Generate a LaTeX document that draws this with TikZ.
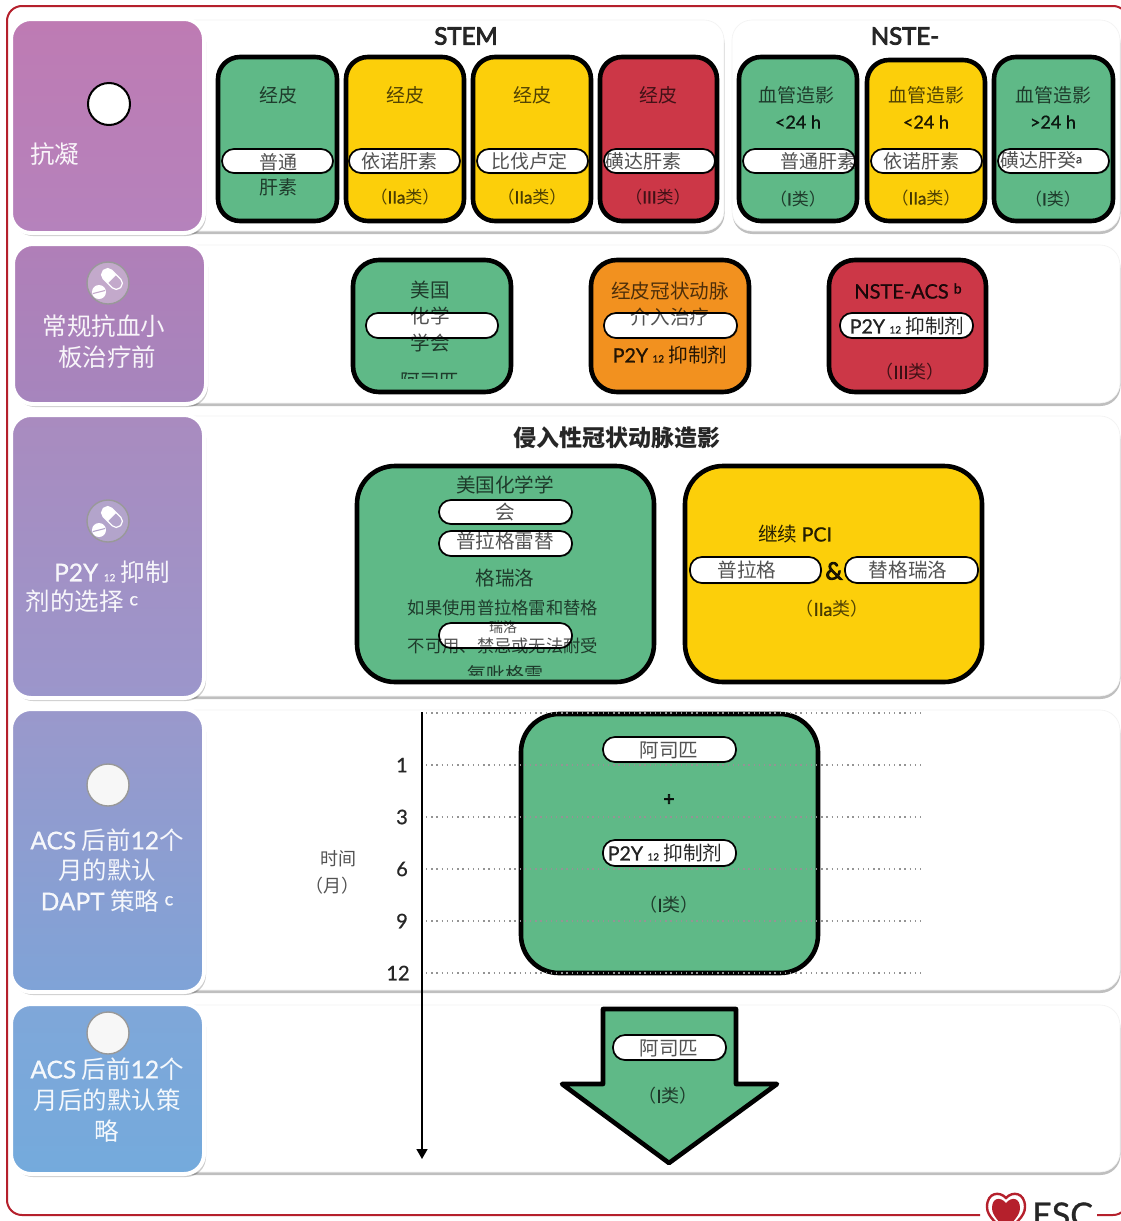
\documentclass[tikz,border=0pt]{standalone}
\usepackage{fontspec}
\setmainfont{Noto Sans CJK SC}
\newfontfamily\lat[FakeBold=0.8]{Lato}
\newfontfamily\latb[FakeBold=3.5]{Lato}
\usetikzlibrary{shadows,arrows.meta}
\definecolor{cgreen}{HTML}{5FB987}
\definecolor{cyellow}{HTML}{FCCF0A}
\definecolor{cred}{HTML}{CC3747}
\definecolor{corange}{HTML}{F2911F}
\definecolor{frame}{HTML}{B5202C}
\definecolor{icona}{HTML}{C3A9CB}
\definecolor{iconb}{HTML}{B3A4CB}
\definecolor{sa}{HTML}{BE7BB3}
\definecolor{sb}{HTML}{B582BC}
\definecolor{sc}{HTML}{B07FB8}
\definecolor{sd}{HTML}{A685BD}
\definecolor{se}{HTML}{A98BBF}
\definecolor{sf}{HTML}{9B96CB}
\definecolor{sg}{HTML}{9A98CB}
\definecolor{sh}{HTML}{7FA3D7}
\definecolor{si}{HTML}{7FA7D9}
\definecolor{sj}{HTML}{74AADC}
\newcommand\fs[1]{\fontsize{#1}{#1}\selectfont}
\newcommand\la[1]{{\lat #1}}
\newcommand\sub[1]{{\lat\fontsize{10}{10}\selectfont #1}}
\newcommand\bx[6][]{\node[#2,#1,inner sep=0pt,outer sep=0pt,minimum width={(#5-#3)*1pt},minimum height={(#6-#4)*1pt}] (#3x#4) at ({(#3+#5)/2},{(#4+#6)/2}) {};}
\tikzset{
  cardbox/.style={draw=black,line width=4.6pt,rounded corners=22pt},
  pillbox/.style={draw=black,fill=white,line width=1.7pt,rounded corners=12pt,
    general shadow={shadow xshift=1pt,shadow yshift=-1pt,fill=black,opacity=.25}},
  panelbox/.style={draw=black!5,fill=white,line width=.6pt,rounded corners=20pt,
    general shadow={shadow xshift=.5pt,shadow yshift=-3pt,fill=black,opacity=.25}},
  sidebox/.style={draw=white,line width=4pt,rounded corners=20pt,
    general shadow={shadow xshift=2pt,shadow yshift=-3pt,fill=black,opacity=.2}},
  ct/.style={inner sep=0pt,font=\fs{19.6},text=black,text opacity=.68},
  ctb/.style={inner sep=0pt,font=\fs{19.6},text=black,text opacity=.85},
  sidet/.style={inner sep=0pt,font=\fs{24.5},text=white,text opacity=.92},
  title/.style={inner sep=0pt,font=\fs{24}\bfseries,text=black!85},
  iconc/.style={circle,inner sep=0pt,minimum size=42pt,draw=black!40,line width=1.4pt},
  tick/.style={inner sep=0pt,font=\fs{20},text=black!85},
  dots/.style={draw=black!42,line width=1.3pt,dash pattern=on 1.4pt off 3.8pt},
}
\newcommand\pillicon[3]{%
  \begin{scope}[shift={(#1,#2)}]
    \begin{scope}[shift={(4,-4)},rotate=-45]
      \draw[white,line width=1.2pt,fill=#3,rounded corners=5.5pt] (-12,-6) rectangle (12,6);
      \fill[white] (0,-6) [rounded corners=5.5pt] -- (-12,-6) -- (-12,6) [sharp corners] -- (0,6) -- cycle;
    \end{scope}
    \fill[white] (-9,9) circle[radius=7];
    \draw[#3,line width=1.1pt] (-15,10.5) -- (-3,7.5);
  \end{scope}}
\begin{document}
\begin{tikzpicture}[x=1pt,y=-1pt]
\clip (0,0) rectangle (1121,1221);
\fill[white] (0,0) rectangle (1121,1221);
% frame
\coordinate (fa) at (980,1215);
\coordinate (fb) at (1097,1215);
\draw[frame,line width=2pt,rounded corners=15pt] (fa) -- (7,1215) -- (7,6) -- (1128,6) -- (1128,1215) -- (fb);
% panels
\bx{panelbox}{100}{20}{724}{231}
\bx{panelbox}{732}{20}{1120}{231}
\bx{panelbox}{100}{245}{1120}{403}
\bx{panelbox}{100}{416}{1120}{696}
\bx{panelbox}{100}{710}{1120}{990}
\bx{panelbox}{100}{1005}{1120}{1172}
% side boxes
\bx[top color=sa,bottom color=sb]{sidebox}{11}{19}{204}{233}
\bx[top color=sc,bottom color=sd]{sidebox}{13}{244}{206}{404}
\bx[top color=se,bottom color=sf]{sidebox}{11}{415}{204}{698}
\bx[top color=sg,bottom color=sh]{sidebox}{11}{709}{204}{992}
\bx[top color=si,bottom color=sj]{sidebox}{11}{1004}{204}{1174}
% side icons
\node[iconc,fill=white,draw=black,line width=2pt] (ic1) at (109,104) {};
\node[iconc,fill=icona] (ic2) at (108,283) {};
\pillicon{108}{283}{icona}
\node[iconc,fill=iconb] (ic3) at (108,521) {};
\pillicon{108}{521}{iconb}
\node[iconc,fill=black!3] (ic4) at (108,785) {};
\node[iconc,fill=black!3] (ic5) at (108,1033) {};
% side text
\node[sidet] (s1) at (55,154) {抗凝};
\node[sidet] (s2a) at (104,326) {常规抗血小};
\node[sidet] (s2b) at (107,357) {板治疗前};
\node[sidet] (s3a) at (112,572) {\la{P2Y} \sub{12} 抑制};
\node[sidet] (s3b) at (82,601) {剂的选择 \la{\fontsize{18}{18}\selectfont\raisebox{5pt}{c}}};
\node[sidet] (s4a) at (107,840) {\la{ACS} 后前\la{12}个};
\node[sidet] (s4b) at (107,870) {月的默认};
\node[sidet] (s4c) at (107,901) {\la{DAPT} 策略 \la{\fontsize{18}{18}\selectfont\raisebox{5pt}{c}}};
\node[sidet] (s5a) at (107,1069) {\la{ACS} 后前\la{12}个};
\node[sidet] (s5b) at (107,1100) {月后的默认策};
\node[sidet] (s5c) at (107,1131) {略};
% titles
\node[title] (t1) at (466,36) {{\latb\mdseries STEM}};
\node[title] (t2) at (905,36) {{\latb\mdseries NSTE-}};
\node[title,font=\fs{23}\bfseries] (t3) at (617,438) {侵入性冠状动脉造影};
% row 1 cards
\bx[fill=cgreen]{cardbox}{218}{57}{337}{221}
\bx[fill=cyellow]{cardbox}{346}{57}{464}{221}
\bx[fill=cyellow]{cardbox}{473}{57}{591}{221}
\bx[fill=cred]{cardbox}{600}{57}{717}{221}
\bx[fill=cgreen]{cardbox}{739}{57}{857}{221}
\bx[fill=cyellow]{cardbox}{867}{60}{985}{221}
\bx[fill=cgreen]{cardbox}{994}{57}{1113}{221}
\bx{pillbox}{222}{149}{333}{173}
\bx{pillbox}{349}{149}{460}{173}
\bx{pillbox}{477}{149}{588}{173}
\bx{pillbox}{604}{149}{715}{173}
\bx{pillbox}{743}{149}{855}{173}
\bx{pillbox}{871}{149}{982}{173}
\bx{pillbox}{998}{149}{1109}{173}
\node[ct,font=\fs{19}] (a1) at (278,95) {经皮};
\node[ct,font=\fs{19}] (a2) at (278,162) {普通};
\node[ct,font=\fs{19}] (a3) at (278,187) {肝素};
\node[ct,font=\fs{19}] (b1) at (405,95) {经皮};
\node[ct,font=\fs{19}] (b2) at (399,161) {依诺肝素};
\node[ct,font=\fs{17}] (b3) at (405,197) {（\la{IIa}类）};
\node[ct,font=\fs{19}] (c1) at (532,95) {经皮};
\node[ct,font=\fs{19}] (c2) at (529,161) {比伐卢定};
\node[ct,font=\fs{17}] (c3) at (532,197) {（\la{IIa}类）};
\node[ct,font=\fs{19}] (d1) at (658,95) {经皮};
\node[ct,font=\fs{19}] (d2) at (643,161) {磺达肝素};
\node[ct,font=\fs{17}] (d3) at (658,197) {（\la{III}类）};
\node[ct,font=\fs{19}] (e1) at (796,95) {血管造影};
\node[ctb] (e2) at (798,122) {\la{\fs{18}<24 h}};
\node[ct,font=\fs{19}] (e3) at (818,161) {普通肝素};
\node[ct,font=\fs{17}] (e4) at (798,199) {（\la{I}类）};
\node[ct,font=\fs{19}] (f1) at (926,95) {血管造影};
\node[ctb] (f2) at (926,122) {\la{\fs{18}<24 h}};
\node[ct,font=\fs{19}] (f3) at (921,161) {依诺肝素};
\node[ct,font=\fs{17}] (f4) at (926,198) {（\la{IIa}类）};
\node[ct,font=\fs{19}] (g1) at (1053,95) {血管造影};
\node[ctb] (g2) at (1053,122) {\la{\fs{18}>24 h}};
\node[ct,font=\fs{19}] (g3) at (1041,160) {磺达肝癸\la{\fontsize{12}{12}\selectfont\raisebox{4pt}{a}}};
\node[ct,font=\fs{17}] (g4) at (1053,199) {（\la{I}类）};
% row 2 cards
\bx[fill=cgreen,rounded corners=26pt]{cardbox}{353}{260}{511}{392}
\bx[fill=corange,rounded corners=26pt]{cardbox}{591}{260}{749}{392}
\bx[fill=cred,rounded corners=26pt]{cardbox}{829}{260}{986}{392}
\bx{pillbox}{366}{313}{498}{338}
\bx{pillbox}{604}{313}{737}{338}
\bx{pillbox}{840}{313}{973}{338}
\node[ct] (h1) at (430,290) {美国};
\node[ct] (h2) at (430,316) {化学};
\node[ct] (h3) at (430,343) {学会};
\begin{scope}
\clip (380,368) rectangle (480,378);
\node[ct] (h4) at (430,381) {阿司匹};
\end{scope}
\node[ct] (i1) at (670,291) {经皮冠状动脉};
\node[ct] (i2) at (670,317) {介入治疗};
\node[ctb] (i3) at (670,355) {\la{P2Y} \sub{12} 抑制剂};
\node[ctb] (j1) at (908,291) {\la{\fs{20}NSTE-ACS \fontsize{14}{14}\selectfont\raisebox{5pt}{b}}};
\node[ctb] (j2) at (907,326) {\la{P2Y} \sub{12} 抑制剂};
\node[ct,font=\fs{18}] (j3) at (910,372) {（\la{III}类）};
% row 3 cards
\bx[fill=cgreen,rounded corners=38pt]{cardbox}{357}{466}{654}{682}
\bx[fill=cyellow,rounded corners=38pt]{cardbox}{685}{466}{982}{682}
\bx{pillbox}{439}{500}{572}{524}
\bx{pillbox}{439}{531}{572}{556}
\bx{pillbox}{439}{623}{572}{648}
\bx{pillbox}{690}{557}{821}{583}
\bx{pillbox}{845}{557}{978}{583}
\node[ct] (k1) at (505,485) {美国化学学};
\node[ct] (k2) at (505,512) {会};
\node[ct] (k3) at (505,541) {普拉格雷替};
\node[ct] (k4) at (505,578) {格瑞洛};
\node[ct,font=\fs{17.3}] (k5) at (503,608) {如果使用普拉格雷和替格};
\node[ct,font=\fs{14}] (k6) at (503,627) {瑞洛};
\node[ct,font=\fs{17.3}] (k7) at (503,646) {不可用、禁忌或无法耐受};
\begin{scope}
\clip (440,655) rectangle (570,675.5);
\node[ct,font=\fs{19}] (k8) at (505,674) {氧吡格雷};
\end{scope}
\node[ctb] (l1) at (795,534) {继续 \la{PCI}};
\node[ct] (l2) at (747,570) {普拉格};
\node[ctb,font=\fs{24}] (l3) at (834,571) {{\latb\&}};
\node[ct] (l4) at (908,570) {替格瑞洛};
\node[ct,font=\fs{18}] (l5) at (832,609) {（\la{IIa}类）};
% row 4 card
\bx[fill=cgreen,rounded corners=38pt]{cardbox}{521}{714}{818}{973}
\bx{pillbox}{603}{737}{736}{762}
\bx{pillbox}{603}{840}{736}{866}
\node[ct] (m1) at (669,750) {阿司匹};
\node[ctb,font=\fs{19}] (m2) at (669,800) {{\latb +}};
\node[ctb] (m3) at (665,853) {\la{P2Y} \sub{12} 抑制剂};
\node[ct,font=\fs{18}] (m4) at (669,905) {（\la{I}类）};
% timeline
\foreach \y/\n in {713/a,765/b,817/c,869/d,921/e,973/f}{
  \coordinate (dl\n) at (426,\y);
  \coordinate (dr\n) at (922,\y);
  \draw[dots] (dl\n) -- (dr\n);
}
\coordinate (ts) at (422,712);
\coordinate (te) at (422,1159);
\draw[black,line width=1.6pt,-{Triangle[length=10pt,width=11pt]}] (ts) -- (te);
\node[tick] (n1) at (402,765) {\la{1}};
\node[tick] (n3) at (402,817) {\la{3}};
\node[tick] (n6) at (402,869) {\la{6}};
\node[tick] (n9) at (402,921) {\la{9}};
\node[tick] (n12) at (398,973) {\la{12}};
\node[ct,font=\fs{18}] (tm1) at (338,859) {时间};
\node[ct,font=\fs{18}] (tm2) at (332,886) {（月）};
% row 5 arrow
\draw[fill=cgreen,draw=black,line width=4.6pt,line join=round] (603,1009) -- (736,1009) -- (736,1084) -- (777,1084) -- (669,1163) -- (562,1084) -- (603,1084) -- cycle;
\bx{pillbox}{613}{1035}{726}{1060}
\node[ct] (o1) at (669,1048) {阿司匹};
\node[ct,font=\fs{18}] (o2) at (668,1096) {（\la{I}类）};
% logo
\draw[frame,line width=2.4pt] (1006,1198) .. controls (1000,1191) and (987,1192) .. (987,1207) .. controls (987,1217) and (998,1224) .. (1006,1232) .. controls (1014,1224) and (1025,1217) .. (1025,1207) .. controls (1025,1192) and (1012,1191) .. (1006,1198) -- cycle;
\fill[frame] (1006,1203) .. controls (1000,1196) and (992,1198) .. (992,1208) .. controls (992,1216) and (1000,1222) .. (1006,1230) .. controls (1012,1222) and (1020,1216) .. (1020,1208) .. controls (1020,1198) and (1012,1196) .. (1006,1203) -- cycle;
\node[inner sep=0pt,anchor=base west,font=\fs{34},text=black!85] (esc) at (1032,1227) {\la{ESC}};
\end{tikzpicture}
\end{document}
